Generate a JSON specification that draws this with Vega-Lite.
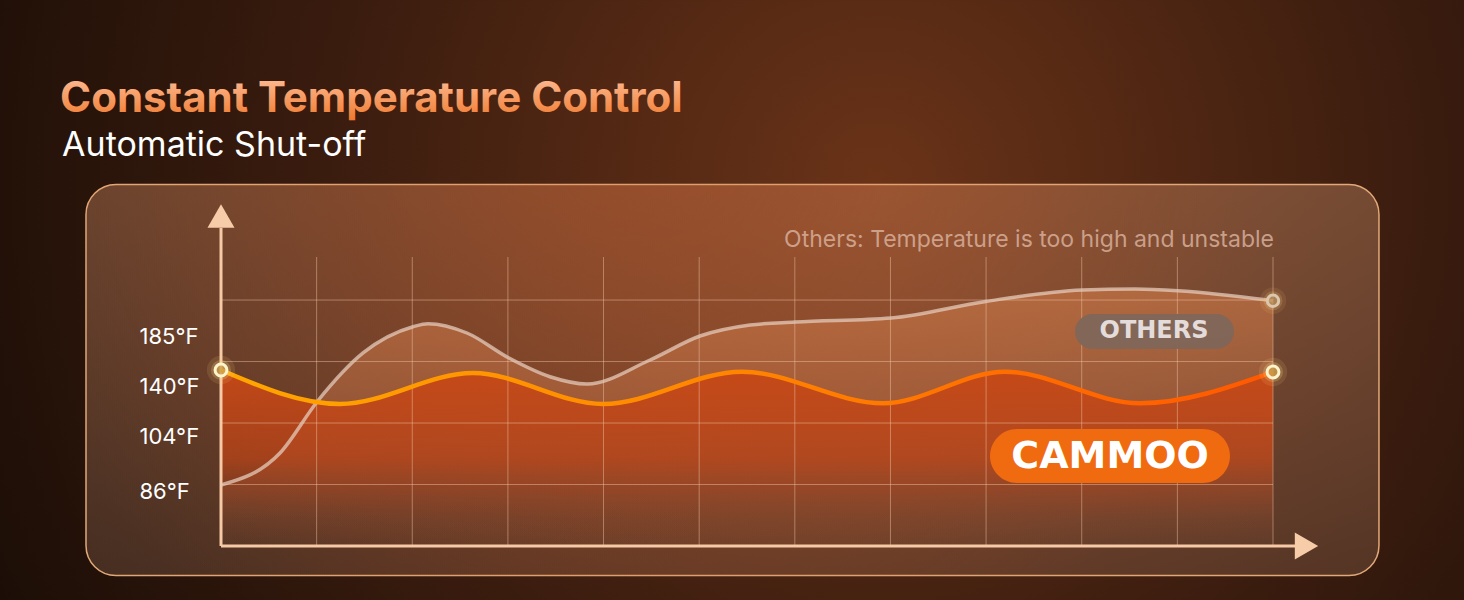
{
  "$schema": "https://vega.github.io/schema/vega-lite/v6.json",
  "width": 1052,
  "height": 289,
  "autosize": {"type": "none"},
  "padding": {"left": 221, "top": 257, "right": 191, "bottom": 54},
  "background": "#24130b",
  "config": {
    "view": {"stroke": null},
    "font": "Inter",
    "axisX": {"labels": false, "ticks": false, "domain": false, "grid": false, "titleOpacity": 0},
    "axisY": {"ticks": false, "tickSize": 0, "domain": false, "grid": false, "titleOpacity": 0, "labelFont": "Inter", "labelFontSize": 22, "labelColor": "#ffffff", "labelAlign": "left", "labelBaseline": "middle", "labelPadding": 82, "labelOverlap": false, "labelFlush": false, "labelBound": false}
  },
  "datasets": {
    "cammoo": [
      {"t": 0, "v": 2.862}, {"t": 1.244, "v": 2.309}, {"t": 2.635, "v": 2.813},
      {"t": 3.994, "v": 2.309}, {"t": 5.448, "v": 2.835}, {"t": 6.922, "v": 2.321},
      {"t": 8.198, "v": 2.835}, {"t": 9.609, "v": 2.321}, {"t": 11, "v": 2.83}
    ],
    "others": [
      {"t": 0, "v": 0.992}, {"t": 0.617, "v": 1.512}, {"t": 1.011, "v": 2.358},
      {"t": 1.485, "v": 3.139}, {"t": 2.008, "v": 3.566}, {"t": 2.164, "v": 3.615},
      {"t": 2.572, "v": 3.464}, {"t": 3.011, "v": 3.057}, {"t": 3.44, "v": 2.753},
      {"t": 3.827, "v": 2.635}, {"t": 4.486, "v": 3.025}, {"t": 5.008, "v": 3.415},
      {"t": 5.531, "v": 3.594}, {"t": 6.002, "v": 3.643},
      {"t": 7.006, "v": 3.708}, {"t": 7.996, "v": 3.978}, {"t": 9.003, "v": 4.163},
      {"t": 9.557, "v": 4.18}, {"t": 10.007, "v": 4.152}, {"t": 11, "v": 3.989}
    ],
    "hgrid": [{"level": 1}, {"level": 2}, {"level": 3}, {"level": 4}],
    "vgrid": [{"t": 1}, {"t": 2}, {"t": 3}, {"t": 4}, {"t": 5}, {"t": 6}, {"t": 7}, {"t": 8}, {"t": 9}, {"t": 10}, {"t": 11}]
  },
  "layer": [
    {
      "data": {"values": [{}]},
      "mark": {"type": "rect", "fill": {"gradient": "radial", "x1": 0.6, "y1": 0.42, "r1": 0, "x2": 0.6, "y2": 0.42, "r2": 0.72,
        "stops": [{"offset": 0, "color": "#6a3318"}, {"offset": 0.5, "color": "#3c1d0f"}, {"offset": 1, "color": "#160b05"}]}},
      "encoding": {
        "x": {"datum": -2.311, "type": "quantitative", "scale": {"domain": [0, 11], "nice": false, "zero": false}, "axis": {"title": null}},
        "x2": {"datum": 12.997},
        "y": {"datum": 8.879, "type": "quantitative", "scale": {"domain": [0, 4.7], "nice": false, "zero": false},
          "axis": {"title": null, "zindex": 1, "values": [0.886, 1.781, 2.602, 3.407],
            "labelExpr": "datum.value > 3 ? '185°F' : datum.value > 2.2 ? '140°F' : datum.value > 1.3 ? '104°F' : '86°F'"}},
        "y2": {"datum": -0.878}
      }
    },
    {
      "data": {"values": [{}]},
      "mark": {"type": "rect", "cornerRadius": 30, "stroke": "#e2a877", "strokeWidth": 1.5,
        "fill": {"gradient": "linear", "x1": 0, "y1": 0, "x2": 0, "y2": 1,
          "stops": [{"offset": 0, "color": "rgba(222,160,120,0.34)"}, {"offset": 0.6, "color": "rgba(220,160,125,0.26)"}, {"offset": 1, "color": "rgba(210,160,130,0.2)"}]}},
      "encoding": {"x": {"datum": -1.4116}, "x2": {"datum": 12.108}, "y": {"datum": 5.879}, "y2": {"datum": -0.4797}}
    },
    {
      "data": {"values": [{}]},
      "mark": {"type": "rect", "cornerRadius": 30, "fill": {"gradient": "radial", "x1": 0.42, "y1": 0.3, "r1": 0, "x2": 0.42, "y2": 0.3, "r2": 0.5,
        "stops": [{"offset": 0, "color": "rgba(190,70,20,0.34)"}, {"offset": 1, "color": "rgba(190,70,20,0)"}]}},
      "encoding": {"x": {"datum": -1.4116}, "x2": {"datum": 12.108}, "y": {"datum": 5.879}, "y2": {"datum": -0.4797}}
    },
    {
      "data": {"name": "others"},
      "mark": {"type": "area", "interpolate": "monotone",
        "fill": {"gradient": "linear", "x1": 0, "y1": 0, "x2": 0, "y2": 1,
          "stops": [{"offset": 0, "color": "rgba(200,118,70,0.68)"}, {"offset": 0.6, "color": "rgba(190,110,70,0.42)"}, {"offset": 1, "color": "rgba(160,100,70,0.05)"}]}},
      "encoding": {"x": {"field": "t", "type": "quantitative", "title": null}, "y": {"field": "v", "type": "quantitative", "title": null}, "y2": {"datum": 0}}
    },
    {
      "data": {"name": "cammoo"},
      "mark": {"type": "area", "interpolate": "monotone",
        "fill": {"gradient": "linear", "x1": 0, "y1": 0, "x2": 0, "y2": 1,
          "stops": [{"offset": 0, "color": "rgba(200,72,22,0.95)"}, {"offset": 0.5, "color": "rgba(186,68,24,0.75)"}, {"offset": 0.85, "color": "rgba(150,60,30,0.12)"}, {"offset": 1, "color": "rgba(150,60,30,0)"}]}},
      "encoding": {"x": {"field": "t", "type": "quantitative", "title": null}, "y": {"field": "v", "type": "quantitative", "title": null}, "y2": {"datum": 0}}
    },
    {
      "data": {"name": "hgrid"},
      "mark": {"type": "rule", "stroke": "#f3c9aa", "strokeOpacity": 0.45, "strokeWidth": 1},
      "encoding": {"y": {"field": "level", "type": "quantitative", "title": null}, "x": {"datum": 0}, "x2": {"datum": 11}}
    },
    {
      "data": {"name": "vgrid"},
      "mark": {"type": "rule", "stroke": "#f3c9aa", "strokeOpacity": 0.45, "strokeWidth": 1},
      "encoding": {"x": {"field": "t", "type": "quantitative", "title": null}, "y": {"datum": 0}, "y2": {"datum": 4.7}}
    },
    {
      "data": {"values": [{}]},
      "mark": {"type": "rule", "stroke": "#f6caa6", "strokeWidth": 3},
      "encoding": {"x": {"datum": 0}, "y": {"datum": 0}, "y2": {"datum": 5.17}}
    },
    {
      "data": {"values": [{}]},
      "mark": {"type": "rule", "stroke": "#f6caa6", "strokeWidth": 3},
      "encoding": {"y": {"datum": 0}, "x": {"datum": 0}, "x2": {"datum": 11.25}}
    },
    {
      "data": {"values": [{}]},
      "mark": {"type": "point", "shape": "triangle-up", "filled": true, "size": 729, "color": "#f6cda8", "opacity": 1},
      "encoding": {"x": {"datum": 0}, "y": {"datum": 5.367}}
    },
    {
      "data": {"values": [{}]},
      "mark": {"type": "point", "shape": "triangle-right", "filled": true, "size": 729, "color": "#f6cda8", "opacity": 1},
      "encoding": {"x": {"datum": 11.35}, "y": {"datum": 0}}
    },
    {
      "data": {"name": "others"},
      "mark": {"type": "line", "interpolate": "monotone", "stroke": "#e6cbbb", "strokeOpacity": 0.75, "strokeWidth": 3.5},
      "encoding": {"x": {"field": "t", "type": "quantitative", "title": null}, "y": {"field": "v", "type": "quantitative", "title": null}}
    },
    {
      "data": {"name": "cammoo"},
      "mark": {"type": "line", "interpolate": "monotone", "strokeWidth": 4.5,
        "stroke": {"gradient": "linear", "x1": 0, "y1": 0, "x2": 1, "y2": 0,
          "stops": [{"offset": 0, "color": "#ffa600"}, {"offset": 0.5, "color": "#ff8400"}, {"offset": 1, "color": "#ff5800"}]}},
      "encoding": {"x": {"field": "t", "type": "quantitative", "title": null}, "y": {"field": "v", "type": "quantitative", "title": null}}
    },
    {
      "data": {"name": "others"},
      "transform": [{"filter": "datum.t == 11"}],
      "mark": {"type": "point", "filled": true, "size": 700, "color": "#ffd27a", "opacity": 0.1},
      "encoding": {"x": {"field": "t", "type": "quantitative"}, "y": {"field": "v", "type": "quantitative"}}
    },
    {
      "data": {"name": "others"},
      "transform": [{"filter": "datum.t == 11"}],
      "mark": {"type": "point", "filled": true, "size": 360, "color": "#ffd27a", "opacity": 0.18},
      "encoding": {"x": {"field": "t", "type": "quantitative"}, "y": {"field": "v", "type": "quantitative"}}
    },
    {
      "data": {"name": "others"},
      "transform": [{"filter": "datum.t == 11"}],
      "mark": {"type": "point", "filled": false, "size": 130, "fill": "#b48c58", "fillOpacity": 0.7, "stroke": "#dcc6ad", "strokeWidth": 3, "opacity": 1},
      "encoding": {"x": {"field": "t", "type": "quantitative"}, "y": {"field": "v", "type": "quantitative"}}
    },
    {
      "data": {"name": "cammoo"},
      "transform": [{"filter": "datum.t == 0 || datum.t == 11"}],
      "mark": {"type": "point", "filled": true, "size": 800, "color": "#ffd878", "opacity": 0.12},
      "encoding": {"x": {"field": "t", "type": "quantitative"}, "y": {"field": "v", "type": "quantitative"}}
    },
    {
      "data": {"name": "cammoo"},
      "transform": [{"filter": "datum.t == 0 || datum.t == 11"}],
      "mark": {"type": "point", "filled": true, "size": 400, "color": "#ffe08a", "opacity": 0.22},
      "encoding": {"x": {"field": "t", "type": "quantitative"}, "y": {"field": "v", "type": "quantitative"}}
    },
    {
      "data": {"name": "cammoo"},
      "transform": [{"filter": "datum.t == 0 || datum.t == 11"}],
      "mark": {"type": "point", "filled": false, "size": 140, "fill": "#c89a48", "fillOpacity": 0.75, "stroke": "#fff4cc", "strokeWidth": 3, "opacity": 1},
      "encoding": {"x": {"field": "t", "type": "quantitative"}, "y": {"field": "v", "type": "quantitative"}}
    },
    {
      "data": {"values": [{}]},
      "mark": {"type": "text", "text": "Constant Temperature Control", "align": "left", "baseline": "alphabetic", "font": "Inter", "fontSize": 42, "fontWeight": "bold",
        "fill": {"gradient": "linear", "x1": 0, "y1": 0, "x2": 0, "y2": 1, "stops": [{"offset": 0, "color": "#ffc4a2"}, {"offset": 1, "color": "#ef772a"}]}},
      "encoding": {"x": {"datum": -1.6823}, "y": {"datum": 7.058}}
    },
    {
      "data": {"values": [{}]},
      "mark": {"type": "text", "text": "Automatic Shut-off", "align": "left", "baseline": "alphabetic", "font": "Inter", "fontSize": 34, "fill": "#ffffff"},
      "encoding": {"x": {"datum": -1.6614}, "y": {"datum": 6.343}}
    },
    {
      "data": {"values": [{}]},
      "mark": {"type": "text", "text": "Others: Temperature is too high and unstable", "align": "right", "baseline": "alphabetic", "font": "Inter", "fontSize": 23, "fill": "#dcb4a0", "opacity": 0.8},
      "encoding": {"x": {"datum": 11.01}, "y": {"datum": 4.863}}
    },
    {
      "data": {"values": [{}]},
      "mark": {"type": "rect", "cornerRadius": 17.5, "fill": "#7f665a", "opacity": 0.95},
      "encoding": {"x": {"datum": 8.93}, "x2": {"datum": 10.592}, "y": {"datum": 3.773}, "y2": {"datum": 3.204}}
    },
    {
      "data": {"values": [{}]},
      "mark": {"type": "text", "text": "OTHERS", "align": "center", "baseline": "middle", "font": "DejaVu Sans", "fontSize": 24, "fontWeight": "bold", "fill": "#e4dcda"},
      "encoding": {"x": {"datum": 9.756}, "y": {"datum": 3.49}}
    },
    {
      "data": {"values": [{}]},
      "mark": {"type": "rect", "cornerRadius": 27, "fill": "#f06a10"},
      "encoding": {"x": {"datum": 8.041}, "x2": {"datum": 10.55}, "y": {"datum": 1.903}, "y2": {"datum": 1.025}}
    },
    {
      "data": {"values": [{}]},
      "mark": {"type": "text", "text": "CAMMOO", "align": "center", "baseline": "middle", "font": "DejaVu Sans", "fontSize": 38, "fontWeight": "bold", "fill": "#ffffff"},
      "encoding": {"x": {"datum": 9.296}, "y": {"datum": 1.45}}
    }
  ]
}
